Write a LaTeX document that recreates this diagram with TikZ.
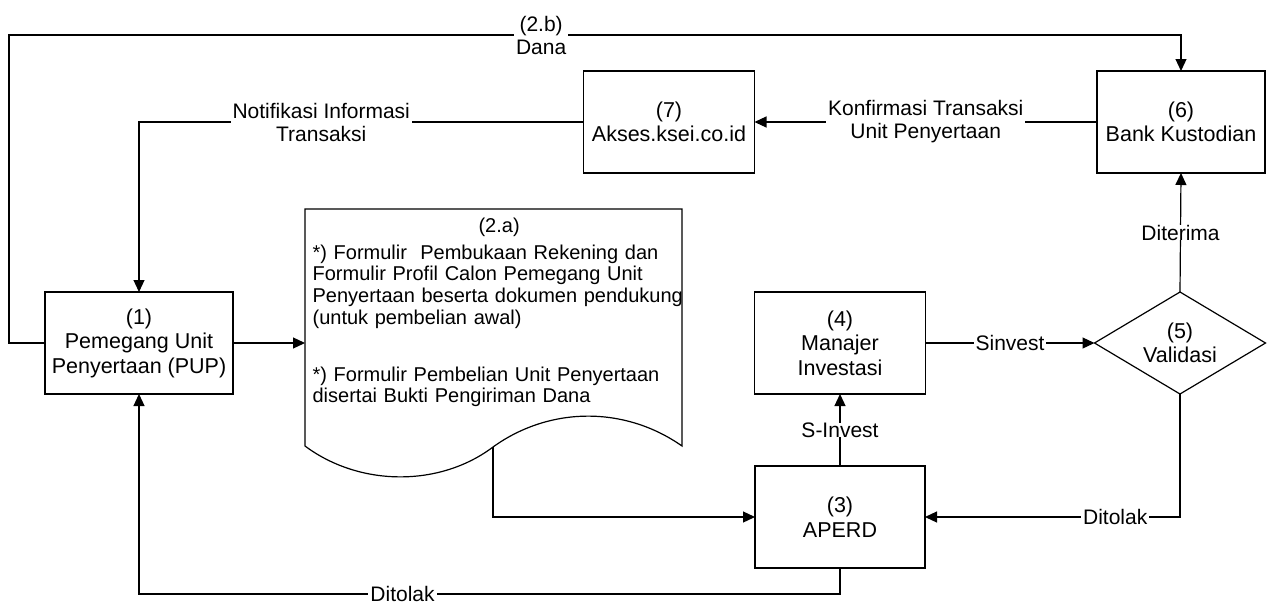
\documentclass[tikz,border=0pt]{standalone}
\usepackage{fontspec}
\setmainfont{Liberation Sans}
\usetikzlibrary{shapes.geometric,arrows.meta}
\begin{document}
\begin{tikzpicture}[x=1pt,y=-1pt,line width=1.2pt,
  box/.style={draw,rectangle,minimum width=#1,minimum height=102pt,inner sep=0pt,outer sep=0pt,align=center,font=\fontsize{21.5}{24.5}\selectfont},
  box/.default=171pt,
  decision/.style={draw,diamond,aspect=1.68,minimum width=171pt,minimum height=102pt,inner sep=0pt,outer sep=0pt,align=center,font=\fontsize{21.5}{24.5}\selectfont},
  arr/.style={-{Triangle[length=12pt,width=11pt]}},
  lbl/.style={fill=white,inner xsep=2pt,inner ysep=0pt,align=center,font=\fontsize{21}{23}\selectfont},
  doctext/.style={anchor=north west,text width=375pt,align=left,inner sep=0pt,font=\fontsize{20}{21.7}\selectfont}
]
\useasboundingbox (0,0) rectangle (1276,605);

% nodes
\node[box=188pt] (b1) at (139,343) {(1)\\Pemegang Unit\\Penyertaan (PUP)};
\node[box=171pt] (b7) at (669,122) {(7)\\Akses.ksei.co.id};
\node[box=168pt] (b6) at (1181,122) {(6)\\Bank Kustodian};
\node[box=171pt] (b4) at (840,343) {(4)\\Manajer\\Investasi};
\node[box=170pt] (b3) at (840,517) {(3)\\APERD};
\node[decision] (d5) at (1180,343) {(5)\\Validasi};

% document shape
\coordinate (docL) at (305,209);
\coordinate (docB) at (493,447);
\draw (305,446) -- (305,209) -- (682,209) -- (682,446)
  .. controls (625,406) and (550,406) .. (docB)
  .. controls (440,487) and (360,487) .. (305,446) -- cycle;
\node[doctext] (doctxt) at (312,217.5) {\hbox to 373pt{\hfil(2.a)\hfil}\\[5pt]
*) Formulir\ \ Pembukaan Rekening dan\\
Formulir Profil Calon Pemegang Unit\\
Penyertaan beserta dokumen pendukung\\
(untuk pembelian awal)\\[35pt]
*) Formulir Pembelian Unit Penyertaan\\
disertai Bukti Pengiriman Dana};

% helper coordinates
\coordinate (tl) at (9,35);
\coordinate (bot) at (840,594);

% connectors
\draw[arr] (b1.west) -| (tl) -| node[lbl,pos=0.227]{(2.b)\\Dana} (b6.north);
\draw[arr] (b6.west) -- node[lbl]{Konfirmasi Transaksi\\Unit Penyertaan} (b7.east);
\draw[arr] (b7.west) -| node[lbl,pos=0.295]{Notifikasi Informasi\\Transaksi} (b1.north);
\draw[arr] (b1.east) -- (b1.east -| docL);
\draw[arr] (docB) |- (b3.west);
\draw[arr] (b3.north) -- node[lbl]{S-Invest} (b4.south);
\draw[arr] (b4.east) -- node[lbl]{Sinvest} (d5.west);
\draw[arr] (d5.north) -- node[lbl]{Diterima} (b6.south);
\draw[arr] (d5.south) |- node[lbl,pos=0.627]{Ditolak} (b3.east);
\draw[arr] (b3.south) -- (bot) -| node[lbl,pos=0.312]{Ditolak} (b1.south);
\end{tikzpicture}
\end{document}
